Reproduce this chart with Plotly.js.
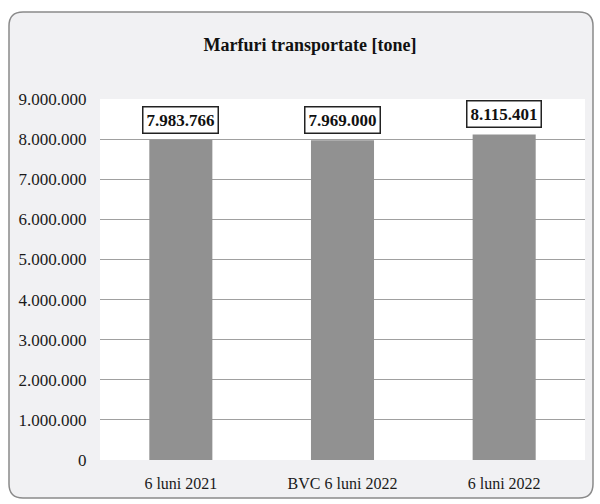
<!DOCTYPE html>
<html>
<head>
<meta charset="utf-8">
<script src="https://cdn.plot.ly/plotly-3.0.1.min.js"></script>
<style>
html,body{margin:0;padding:0;background:#ffffff;}
#chart{width:600px;height:504px;}
</style>
</head>
<body>
<div id="chart"></div>
<script>
const categories = ["6 luni 2021", "BVC 6 luni 2022", "6 luni 2022"];
const values = [7983766, 7969000, 8115401];
const tickValues = [0, 1000000, 2000000, 3000000, 4000000, 5000000, 6000000, 7000000, 8000000, 9000000];
const chartTitle = "Marfuri transportate [tone]";

// layout geometry (pixels)
const W = 600, H = 504;
const mL = 100, mR = 15, mT = 99, mB = 44;
const pw = W - mL - mR, ph = H - mT - mB;
const fx = px => (px - mL) / pw;
const fy = py => (H - mB - py) / ph;

function roundRectPath(x0, y0, x1, y1, r) {
  const p = (x, y) => fx(x).toFixed(5) + "," + fy(y).toFixed(5);
  return "M" + p(x0 + r, y0) +
    " L" + p(x1 - r, y0) + " Q" + p(x1, y0) + " " + p(x1, y0 + r) +
    " L" + p(x1, y1 - r) + " Q" + p(x1, y1) + " " + p(x1 - r, y1) +
    " L" + p(x0 + r, y1) + " Q" + p(x0, y1) + " " + p(x0, y1 - r) +
    " L" + p(x0, y0 + r) + " Q" + p(x0, y0) + " " + p(x0 + r, y0) + " Z";
}

function fmt(v) {
  return String(v).replace(/\B(?=(\d{3})+(?!\d))/g, ".");
}

const trace = {
  type: "bar",
  x: categories,
  y: values,
  marker: {color: "#919191", line: {width: 0}},
  hoverinfo: "skip"
};

const annotations = categories.map((c, i) => ({
  x: c,
  y: values[i],
  xref: "x",
  yref: "y",
  text: fmt(values[i]),
  showarrow: false,
  yanchor: "bottom",
  yshift: 6,
  font: {family: "Liberation Serif, Times New Roman, serif", size: 17, color: "#111111", weight: "bold"},
  bgcolor: "#ffffff",
  bordercolor: "#222222",
  borderwidth: 1.5,
  borderpad: 3
}));

const layout = {
  width: W,
  height: H,
  margin: {l: mL, r: mR, t: mT, b: mB, pad: 0},
  paper_bgcolor: "#ffffff",
  plot_bgcolor: "#ffffff",
  separators: ",.",
  showlegend: false,
  bargap: 0.61,
  title: {
    text: "<b>" + chartTitle + "</b>",
    x: 310 / W,
    xanchor: "center",
    y: 1 - 45 / H,
    yanchor: "middle",
    xref: "container",
    yref: "container",
    font: {family: "Liberation Serif, Times New Roman, serif", size: 18, color: "#111111"}
  },
  xaxis: {
    type: "category",
    showgrid: false,
    zeroline: false,
    showline: false,
    ticks: "outside",
    ticklen: 9,
    tickcolor: "rgba(0,0,0,0)",
    tickfont: {family: "Liberation Serif, Times New Roman, serif", size: 16, color: "#1a1a1a"}
  },
  yaxis: {
    range: [0, 9000000],
    tickvals: tickValues,
    tickformat: ",d",
    showgrid: true,
    gridcolor: "#a0a0a0",
    gridwidth: 1,
    zeroline: false,
    showline: false,
    ticks: "outside",
    ticklen: 9,
    tickcolor: "rgba(0,0,0,0)",
    tickfont: {family: "Liberation Serif, Times New Roman, serif", size: 17, color: "#1a1a1a"}
  },
  shapes: [
    {
      type: "path",
      xref: "paper", yref: "paper",
      layer: "below",
      path: roundRectPath(9, 12, 593, 498, 14),
      fillcolor: "#f1f1f3",
      line: {color: "#8a8a8a", width: 1.5}
    },
    {
      type: "rect",
      xref: "paper", yref: "paper",
      layer: "below",
      x0: 0, x1: 1, y0: 0, y1: 1,
      fillcolor: "#ffffff",
      line: {width: 0}
    }
  ],
  annotations: annotations
};

Plotly.newPlot("chart", [trace], layout, {staticPlot: true, displayModeBar: false});
</script>
</body>
</html>
